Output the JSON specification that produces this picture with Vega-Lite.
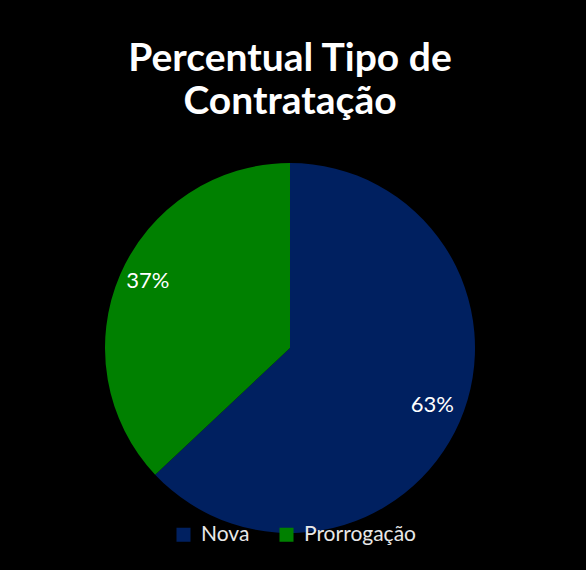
{
  "$schema": "https://vega.github.io/schema/vega-lite/v6.json",
  "width": 564,
  "height": 444,
  "autosize": "none",
  "padding": {"left": 8, "right": 14, "top": 126, "bottom": 0},
  "background": "black",
  "title": {
    "text": ["Percentual Tipo de", "Contratação"],
    "font": "Lato",
    "fontSize": 39,
    "fontWeight": "bold",
    "color": "white",
    "anchor": "middle",
    "lineHeight": 43,
    "offset": 4
  },
  "data": {
    "values": [
      {"tipo": "Nova", "value": 63, "label": "63%"},
      {"tipo": "Prorrogação", "value": 37, "label": "37%"}
    ]
  },
  "encoding": {
    "theta": {"field": "value", "type": "quantitative", "stack": true},
    "order": {"field": "value", "type": "quantitative", "sort": "descending"}
  },
  "layer": [
    {
      "mark": {"type": "arc", "outerRadius": 185, "stroke": null},
      "encoding": {
        "color": {
          "field": "tipo",
          "type": "nominal",
          "scale": {"domain": ["Nova", "Prorrogação"], "range": ["#002060", "#008000"]},
          "legend": {
            "title": null,
            "orient": "none",
            "direction": "horizontal",
            "legendX": 165,
            "legendY": 398,
            "symbolType": "square",
            "symbolSize": 196,
            "symbolStrokeWidth": 0,
            "labelFont": "Lato",
            "labelFontSize": 21,
            "labelColor": "#e8e8e8",
            "columnPadding": 26,
            "labelOffset": 7
          }
        }
      }
    },
    {
      "mark": {"type": "text", "radius": 155, "dy": -5, "fontSize": 22, "font": "Lato", "color": "white"},
      "encoding": {
        "text": {"field": "label", "type": "nominal"}
      }
    }
  ]
}
